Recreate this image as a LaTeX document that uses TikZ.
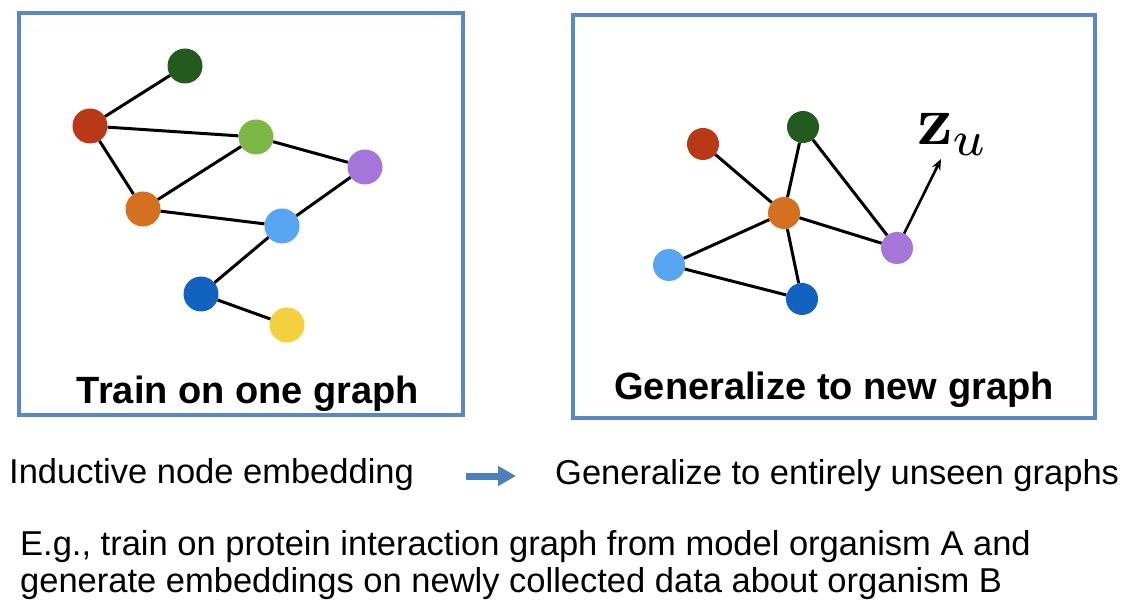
\documentclass[tikz,border=0pt]{standalone}
\usepackage[no-math]{fontspec}
\usepackage{graphicx}
\setmainfont{Liberation Sans}
\usetikzlibrary{arrows.meta}
\definecolor{cdgreen}{HTML}{235A20}
\definecolor{cred}{HTML}{B93817}
\definecolor{clgreen}{HTML}{7DB847}
\definecolor{cpurple}{HTML}{A575D9}
\definecolor{corange}{HTML}{D4701F}
\definecolor{clblue}{HTML}{58A6F1}
\definecolor{cblue}{HTML}{1262BF}
\definecolor{cyellow}{HTML}{F4D03F}
\definecolor{cbox}{HTML}{5B87C5}
\definecolor{carrow}{HTML}{4F7EBE}
\tikzset{
  gnodeL/.style={circle, inner sep=0pt, minimum size=35pt, fill=#1},
  gnodeR/.style={circle, inner sep=0pt, minimum size=32pt, fill=#1},
  edge/.style={line width=3pt, black},
  panel/.style={draw=cbox, line width=3.2pt},
  title/.style={inner sep=0pt, anchor=base, font=\fontsize{38}{44}\selectfont\bfseries},
  body/.style={inner sep=0pt, anchor=base west, font=\fontsize{34.5}{40}\selectfont},
}
\begin{document}
\begin{tikzpicture}[x=1pt, y=-1pt]
\useasboundingbox (0,0) rectangle (1122,609);
% panels
\draw[panel] (19,13) rectangle (463,415);
\draw[panel] (573,15) rectangle (1095,418);
% left graph
\node[gnodeL=cdgreen] (l1) at (185,66) {};
\node[gnodeL=cred] (l2) at (90,126) {};
\node[gnodeL=clgreen] (l3) at (256,137) {};
\node[gnodeL=cpurple] (l4) at (365,167) {};
\node[gnodeL=corange] (l5) at (143,209) {};
\node[gnodeL=clblue] (l6) at (282,226) {};
\node[gnodeL=cblue] (l7) at (201,294) {};
\node[gnodeL=cyellow] (l8) at (287,325) {};
\draw[edge] (l1) -- (l2);
\draw[edge] (l2) -- (l3);
\draw[edge] (l2) -- (l5);
\draw[edge] (l3) -- (l5);
\draw[edge] (l3) -- (l4);
\draw[edge] (l5) -- (l6);
\draw[edge] (l4) -- (l6);
\draw[edge] (l6) -- (l7);
\draw[edge] (l7) -- (l8);
\node[title] (t1) at (248,404) {Train on one graph};
% right graph
\node[gnodeR=cred] (r1) at (703,144) {};
\node[gnodeR=cdgreen] (r2) at (803,127) {};
\node[gnodeR=corange] (r3) at (784,213) {};
\node[gnodeR=cpurple] (r4) at (897,248) {};
\node[gnodeR=clblue] (r5) at (669,265) {};
\node[gnodeR=cblue] (r6) at (802,299) {};
\draw[edge] (r1) -- (r3);
\draw[edge] (r2) -- (r3);
\draw[edge] (r2) -- (r4);
\draw[edge] (r3) -- (r4);
\draw[edge] (r3) -- (r5);
\draw[edge] (r3) -- (r6);
\draw[edge] (r5) -- (r6);
\coordinate (ztip) at (941,159);
\draw[line width=2.6pt, -{Stealth[length=11pt,width=9pt]}] (r4) -- (ztip);
\node[inner sep=0pt, anchor=base west] (zu) at (917,145) {\scalebox{7}{$\mathbf{z}_u$}};
\node[title] (t2) at (834,400) {Generalize to new graph};
% bottom text
\node[body] (ind) at (9,483) {Inductive node embedding};
\node[body] (gen) at (555,484) {Generalize to entirely unseen graphs};
\coordinate (a1) at (466,476);
\coordinate (a2) at (516,476);
\draw[carrow, line width=7pt, -{Triangle[length=18pt,width=19pt]}] (a1) -- (a2);
\node[body] (eg1) at (20,555) {E.g., train on protein interaction graph from model organism A and};
\node[body] (eg2) at (20,592) {generate embeddings on newly collected data about organism B};
\end{tikzpicture}
\end{document}
